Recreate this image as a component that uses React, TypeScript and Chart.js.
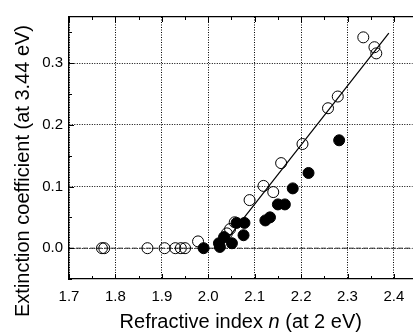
import React, { useEffect, useRef } from "react";
import { Chart, registerables } from "chart.js";

Chart.register(...registerables);

// ---- data ----
const xTicks = [1.7, 1.8, 1.9, 2.0, 2.1, 2.2, 2.3, 2.4];
const yTicks = [0.0, 0.1, 0.2, 0.3];

const openN = [1.771, 1.776, 1.869, 1.906, 1.929, 1.941, 1.95, 1.978, 2.04, 2.047, 2.057, 2.089, 2.119, 2.14, 2.157, 2.203, 2.258, 2.279, 2.334, 2.358, 2.362];
const openK = [0.0, 0.0, 0.0, 0.0, 0.0, 0.0, 0.0, 0.011, 0.024, 0.031, 0.042, 0.078, 0.101, 0.091, 0.138, 0.169, 0.227, 0.246, 0.342, 0.326, 0.316];

const filledN = [1.99, 2.023, 2.025, 2.034, 2.051, 2.061, 2.078, 2.076, 2.123, 2.133, 2.15, 2.165, 2.182, 2.216, 2.282];
const filledK = [0.0, 0.008, 0.002, 0.018, 0.008, 0.041, 0.041, 0.021, 0.045, 0.05, 0.071, 0.071, 0.097, 0.122, 0.175];

const fitN = [2.035, 2.389];
const fitK = [0.009, 0.349];

const baseN = [1.7, 2.44];
const baseK = [0.0, 0.0];

const X_MIN = 1.7, X_MAX = 2.44, Y_MIN = -0.05, Y_MAX = 0.375;

const toXY = (xs: number[], ys: number[]) => xs.map((x, i) => ({ x, y: ys[i] }));

const FONT = "'Liberation Sans', Arial, sans-serif";

const inwardTicks = {
  id: "inwardTicks",
  afterDatasetsDraw(chart: any) {
    const { ctx, chartArea: a, scales } = chart;
    const sx = scales.x, sy = scales.y;
    ctx.save();
    ctx.strokeStyle = "#000";
    ctx.lineWidth = 1;
    const seg = (x1: number, y1: number, x2: number, y2: number) => {
      ctx.beginPath(); ctx.moveTo(x1, y1); ctx.lineTo(x2, y2); ctx.stroke();
    };
    const xStep = xTicks[1] - xTicks[0];
    xTicks.forEach((v) => {
      [v, v + xStep / 2].forEach((t, j) => {
        if (t > X_MAX) return;
        const len = j === 0 ? 5 : 3;
        const px = Math.round(sx.getPixelForValue(t)) + 0.5;
        seg(px, a.bottom, px, a.bottom - len);
        seg(px, a.top, px, a.top + len);
      });
    });
    const yStep = yTicks[1] - yTicks[0];
    [yTicks[0] - yStep, ...yTicks].forEach((v) => {
      [v, v + yStep / 2].forEach((t, j) => {
        if (t < Y_MIN - 1e-9 || t > Y_MAX) return;
        const len = j === 0 ? 5 : 3;
        const py = Math.round(sy.getPixelForValue(t)) + 0.5;
        seg(a.left, py, a.left + len, py);
      });
    });
    ctx.restore();
  },
};

const axisTitles = {
  id: "axisTitles",
  afterDraw(chart: any) {
    const { ctx, chartArea: a } = chart;
    ctx.save();
    ctx.fillStyle = "#000";
    ctx.textBaseline = "middle";
    // x title with italic n
    const parts: [string, string][] = [
      ["Refractive index ", `20px ${FONT}`],
      ["n", `italic 20px ${FONT}`],
      [" (at 2 eV)", `20px ${FONT}`],
    ];
    let total = 0;
    parts.forEach(([t, f]) => { ctx.font = f; total += ctx.measureText(t).width; });
    let x = (a.left + a.right) / 2 - total / 2;
    ctx.textAlign = "left";
    parts.forEach(([t, f]) => { ctx.font = f; ctx.fillText(t, x, 322); x += ctx.measureText(t).width; });
    // y title
    ctx.translate(23, 171);
    ctx.rotate(-Math.PI / 2);
    ctx.font = `20px ${FONT}`;
    ctx.textAlign = "center";
    ctx.fillText("Extinction coefficient (at 3.44 eV)", 0, 0);
    ctx.restore();
  },
};

export default function App() {
  const ref = useRef<HTMLCanvasElement>(null);
  useEffect(() => {
    if (!ref.current) return;
    const chart = new Chart(ref.current, {
      type: "scatter",
      data: {
        datasets: [
          {
            label: "filled",
            data: toXY(filledN, filledK),
            pointStyle: "circle",
            pointRadius: 5.5,
            pointBackgroundColor: "#000",
            pointBorderColor: "#000",
            pointBorderWidth: 1,
            order: 1,
          },
          {
            label: "open",
            data: toXY(openN, openK),
            pointStyle: "circle",
            pointRadius: 5.5,
            pointBackgroundColor: "rgba(0,0,0,0)",
            pointBorderColor: "#000",
            pointBorderWidth: 1,
            order: 2,
          },
          {
            label: "fit",
            type: "line",
            data: toXY(fitN, fitK),
            borderColor: "#000",
            borderWidth: 1.2,
            pointRadius: 0,
            showLine: true,
            order: 3,
          } as any,
          {
            label: "base",
            type: "line",
            data: toXY(baseN, baseK),
            borderColor: "#333",
            borderWidth: 1,
            borderDash: [5, 2],
            pointRadius: 0,
            showLine: true,
            order: 4,
          } as any,
        ],
      },
      options: {
        animation: false,
        responsive: false,
        layout: { padding: 0 },
        plugins: { legend: { display: false }, tooltip: { enabled: false } },
        scales: {
          x: {
            type: "linear",
            position: "bottom",
            min: X_MIN,
            max: X_MAX,
            afterBuildTicks: (s: any) => { s.ticks = xTicks.map((v) => ({ value: v })); },
            afterFit: (s: any) => { s.height = 54; },
            grid: { color: "#000", lineWidth: 1, drawTicks: false },
            border: { display: true, color: "#000", width: 1.3, dash: [1, 1.5] },
            ticks: {
              color: "#000",
              font: { family: FONT, size: 15 },
              padding: 9,
              maxRotation: 0,
              callback: (v: any) => Number(v).toFixed(1),
            },
          },
          x2: {
            type: "linear",
            position: "top",
            min: X_MIN,
            max: X_MAX,
            afterFit: (s: any) => { s.height = 17; },
            grid: { display: false, drawTicks: false },
            border: { display: true, color: "#000", width: 1.3 },
            ticks: { display: false },
          },
          y: {
            type: "linear",
            position: "left",
            min: Y_MIN,
            max: Y_MAX,
            afterBuildTicks: (s: any) => { s.ticks = yTicks.map((v) => ({ value: v })); },
            afterFit: (s: any) => { s.width = 69; },
            grid: { color: "#000", lineWidth: 1, drawTicks: false },
            border: { display: true, color: "#000", width: 1.3, dash: [1, 1.5] },
            ticks: {
              color: "#000",
              font: { family: FONT, size: 15 },
              padding: 6,
              callback: (v: any) => Number(v).toFixed(1),
            },
          },
        },
      } as any,
      plugins: [inwardTicks, axisTitles],
    });
    return () => chart.destroy();
  }, []);
  return (
    <div style={{ position: "fixed", left: 0, top: 0, width: 419, height: 333, overflow: "hidden", background: "#fff" }}>
      <canvas ref={ref} width={419} height={333} style={{ width: 419, height: 333 }} />
    </div>
  );
}
